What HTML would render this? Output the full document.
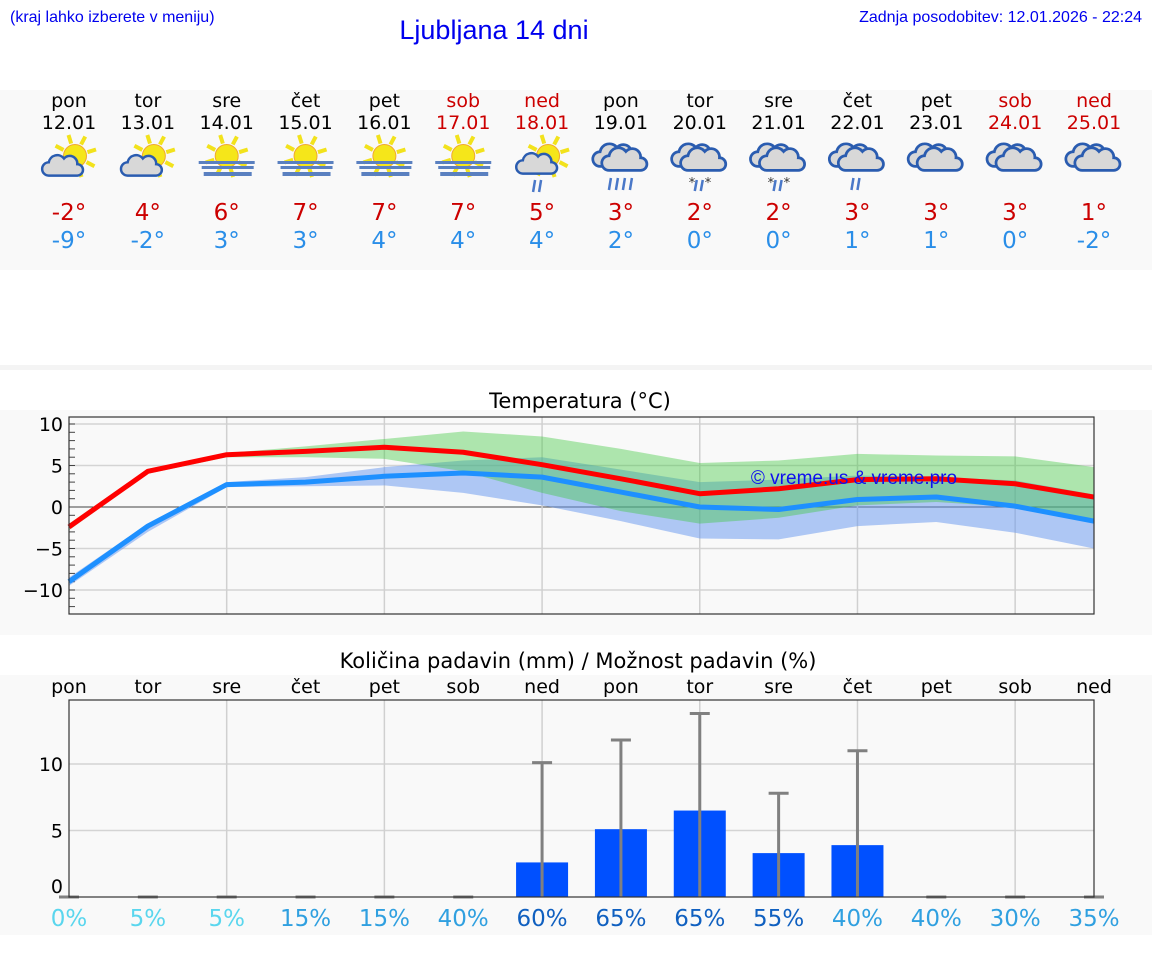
<!DOCTYPE html>
<html><head><meta charset="utf-8">
<style>
body{margin:0;background:#fff;width:1152px;height:975px;overflow:hidden;font-family:"DejaVu Sans","Liberation Sans",sans-serif;}
svg{position:absolute;left:0;top:0}
</style></head>
<body>
<svg id="s" width="1152" height="975" xmlns="http://www.w3.org/2000/svg">
<rect x="0" y="90" width="1152" height="180" fill="#f9f9f9"/>
<rect x="0" y="365" width="1152" height="5" fill="#f4f4f4"/>
<rect x="0" y="410" width="1152" height="225" fill="#f9f9f9"/>
<rect x="0" y="675" width="1152" height="260" fill="#f9f9f9"/>
<text x="10" y="22" font-family="Liberation Sans" font-size="16" fill="#0000ee">(kraj lahko izberete v meniju)</text>
<text x="494" y="39" text-anchor="middle" font-family="Liberation Sans" font-size="27" fill="#0000ee">Ljubljana 14 dni</text>
<text x="1142" y="22" text-anchor="end" font-family="Liberation Sans" font-size="16" fill="#0000ee">Zadnja posodobitev: 12.01.2026 - 22:24</text>
<text x="580" y="408" text-anchor="middle" font-size="21" fill="#000">Temperatura (°C)</text>
<text x="578" y="668" text-anchor="middle" font-size="21" fill="#000">Količina padavin (mm) / Možnost padavin (%)</text>
<g id="g"></g>
</svg>
<script>
const dayNames=["pon","tor","sre","čet","pet","sob","ned","pon","tor","sre","čet","pet","sob","ned"];
const dates=["12.01","13.01","14.01","15.01","16.01","17.01","18.01","19.01","20.01","21.01","22.01","23.01","24.01","25.01"];
const icons=["pc","pc","fog","fog","fog","fog","pcr","rain","sleet","sleet","rain2","cloud","cloud","cloud"];
const hiLabels=[-2,4,6,7,7,7,5,3,2,2,3,3,3,1];
const loLabels=[-9,-2,3,3,4,4,4,2,0,0,1,1,0,-2];
const tMax=[-2.4,4.3,6.3,6.7,7.2,6.6,5.1,3.4,1.6,2.2,3.3,3.4,2.8,1.2];
const tMin=[-9,-2.3,2.7,3.0,3.7,4.1,3.6,1.8,0,-0.3,0.9,1.2,0.1,-1.7];
const maxUp=[-2,4.6,6.5,7.3,8.2,9.1,8.5,7.0,5.3,5.6,6.4,6.2,6.1,4.8];
const maxLo=[-2.8,4.0,6.0,6.0,5.8,4.3,1.7,-0.5,-2.0,-1.3,0.2,0.6,0.0,-1.4];
const minUp=[-8.5,-2.0,3.0,3.6,4.8,5.6,6.0,4.5,3.0,3.3,3.8,3.6,3.2,1.5];
const minLo=[-9.5,-3.0,2.4,2.5,2.6,1.7,0.2,-1.7,-3.8,-3.9,-2.3,-1.8,-3.1,-5.0];
const tTicks=[10,5,0,-5,-10];
const precip=[0,0,0,0,0,0,2.6,5.1,6.5,3.3,3.9,0,0,0];
const precipMax=[0,0,0,0,0,0,10.1,11.8,13.8,7.8,11.0,0,0,0];
const pTicks=[10,5,0];
const chance=[0,5,5,15,15,40,60,65,65,55,40,40,30,35];

const NS="http://www.w3.org/2000/svg",G=document.getElementById('g');
function el(t,a,txt){const e=document.createElementNS(NS,t);for(const k in a)e.setAttribute(k,a[k]);if(txt!==undefined)e.textContent=txt;G.appendChild(e);return e;}
const X=i=>69+i*(1025/13);
const TY=v=>507-v*8.3;
const PY=v=>897-v*13.3;

dayNames.forEach((d,i)=>{
  const we=(i==5||i==6||i==12||i==13);
  let e=el('text',{x:X(i),y:107,'text-anchor':'middle','font-size':19,fill:we?'#cc0000':'#000'},d);
  
  e=el('text',{x:X(i),y:129,'text-anchor':'middle','font-size':19,fill:we?'#cc0000':'#000'},dates[i]);
  
  e=el('text',{x:X(i),y:220,'text-anchor':'middle','font-size':23,fill:'#cc0000'},hiLabels[i]+'°');
  
  e=el('text',{x:X(i),y:248,'text-anchor':'middle','font-size':23,fill:'#2a8ee8'},loLabels[i]+'°');
  
  drawIcon(icons[i],X(i),160);
});
function sun(cx,cy){let s='';for(let k=0;k<8;k++){const a=k*Math.PI/4-0.3;s+=`<line x1="${cx+Math.cos(a)*13}" y1="${cy+Math.sin(a)*13}" x2="${cx+Math.cos(a)*22}" y2="${cy+Math.sin(a)*22}" stroke="#f2e21c" stroke-width="4"/>`;}
 return s+`<circle cx="${cx}" cy="${cy}" r="11.5" fill="#f5e61a" stroke="#f0a830" stroke-width="1"/>`;}
function cloud(cx,cy,sc){return `<g transform="translate(${cx},${cy}) scale(${sc})"><path d="M-16,8 a7,7 0 0 1 0,-14 a9,9 0 0 1 16,-4 a8,8 0 0 1 14,6 a6,6 0 0 1 0,12 z" fill="#d8d8d8" stroke="#2a5cb0" stroke-width="2.6"/></g>`;}
function drawIcon(t,x,y){
  const g=document.createElementNS(NS,'g');
  
  
  let s='';
  if(t=='pc'){s=sun(x+6,y-4)+cloud(x-5,y+8,0.95);}
  else if(t=='fog'){s=sun(x,y-4)+`<rect x="${x-28}" y="${y+1}" width="56" height="3" fill="#5a80c0"/><rect x="${x-25}" y="${y+6}" width="52" height="3" fill="#5a80c0"/><rect x="${x-23}" y="${y+12}" width="48" height="4" fill="#5a80c0"/>`;}
  else if(t=='pcr'){s=sun(x+6,y-4)+cloud(x-4,y+6,0.95)+`<path d="M${x-7},${y+20}l-2,12M${x-1},${y+20}l-2,12" stroke="#4a78c8" stroke-width="2.5"/>`;}
  else {
    s=cloud(x-4,y-2,1.05)+cloud(x+5,y+2,1.05);
    if(t=='rain')s+=`<path d="M${x-10},${y+18}l-2,12M${x-3},${y+18}l-2,12M${x+4},${y+18}l-2,12M${x+11},${y+18}l-2,12" stroke="#4a78c8" stroke-width="2.5"/>`;
    if(t=='rain2')s+=`<path d="M${x-4},${y+18}l-2,12M${x+2},${y+18}l-2,12" stroke="#4a78c8" stroke-width="2.5"/>`;
    if(t=='sleet')s+=`<path d="M${x-3},${y+20}l-2,11M${x+3},${y+20}l-2,11" stroke="#4a78c8" stroke-width="2.5"/><text x="${x-11}" y="${y+27}" font-size="13" fill="#333">*</text><text x="${x+5}" y="${y+27}" font-size="13" fill="#333">*</text>`;
  }
  g.innerHTML=s;G.appendChild(g);
}

const tb=el('rect',{x:69,y:417,width:1025,height:197,fill:'#f9f9f9'});

tTicks.forEach(v=>{let e=el('line',{x1:69,x2:1094,y1:TY(v),y2:TY(v),stroke:v==0?'#444':'#d4d4d4','stroke-width':v==0?1:1.5});
  
  e=el('text',{x:63,y:TY(v)+7,'text-anchor':'end','font-size':19,fill:'#000'},v<0?'−'+(-v):String(v));
  });
for(let v=-12;v<=10;v++){const e=el('line',{x1:69,x2:75,y1:TY(v),y2:TY(v),stroke:'#444','stroke-width':1});}
for(let i=2;i<13;i+=2){const e=el('line',{x1:X(i),x2:X(i),y1:417,y2:614,stroke:'#d0d0d0','stroke-width':1.5});}
function band(up,lo,fill,name){let p='M'+up.map((v,i)=>X(i)+','+TY(v)).join('L')+'L'+lo.map((v,i)=>X(i)+','+TY(v)).reverse().join('L')+'Z';
 const e=el('path',{d:p,fill:fill});}
band(minUp,minLo,'rgba(100,150,240,0.5)','min-temp-range');
band(maxUp,maxLo,'rgba(60,200,60,0.4)','max-temp-range');
function line(arr,col,name){const e=el('polyline',{points:arr.map((v,i)=>X(i)+','+TY(v)).join(' '),fill:'none',stroke:col,'stroke-width':5,'stroke-linejoin':'round'});}
line(tMin,'#1e90ff','min-temp-line');
line(tMax,'#ff0000','max-temp-line');
let wm=el('text',{x:854,y:484,'text-anchor':'middle','font-family':'Liberation Sans','font-size':19,fill:'#1010ee'},'© vreme.us & vreme.pro');

let fr=el('rect',{x:69,y:417,width:1025,height:197,fill:'none',stroke:'#333','stroke-width':1.2});


dayNames.forEach((d,i)=>{const e=el('text',{x:X(i),y:693,'text-anchor':'middle','font-size':19,fill:'#000'},d);});
const pb=el('rect',{x:69,y:700,width:1025,height:197,fill:'#f9f9f9'});

pTicks.forEach(v=>{let e;if(v>0){e=el('line',{x1:69,x2:1094,y1:PY(v),y2:PY(v),stroke:'#d4d4d4','stroke-width':1.5});}
  e=el('text',{x:63,y:PY(v)+(v==0?-4:7),'text-anchor':'end','font-size':19,fill:'#000'},String(v));});
for(let i=2;i<13;i+=2){const e=el('line',{x1:X(i),x2:X(i),y1:700,y2:897,stroke:'#d0d0d0','stroke-width':1.5});}
precip.forEach((v,i)=>{
  if(v>0){const e=el('rect',{x:X(i)-26,y:PY(v),width:52,height:PY(0)-PY(v),fill:'#0050ff'});}
  let e=el('line',{x1:X(i),x2:X(i),y1:PY(0),y2:PY(precipMax[i]),stroke:'#808080','stroke-width':3});
  e=el('line',{x1:X(i)-10,x2:X(i)+10,y1:PY(precipMax[i]),y2:PY(precipMax[i]),stroke:'#808080','stroke-width':3});
});
fr=el('rect',{x:69,y:700,width:1025,height:197,fill:'none',stroke:'#333','stroke-width':1.2});

chance.forEach((c,i)=>{const col=c<10?'#5ad6ee':c<50?'#30a0e0':'#1060c0';
  const e=el('text',{x:X(i),y:926,'text-anchor':'middle','font-size':23,fill:col},c+'%');});
</script>
</body></html>
